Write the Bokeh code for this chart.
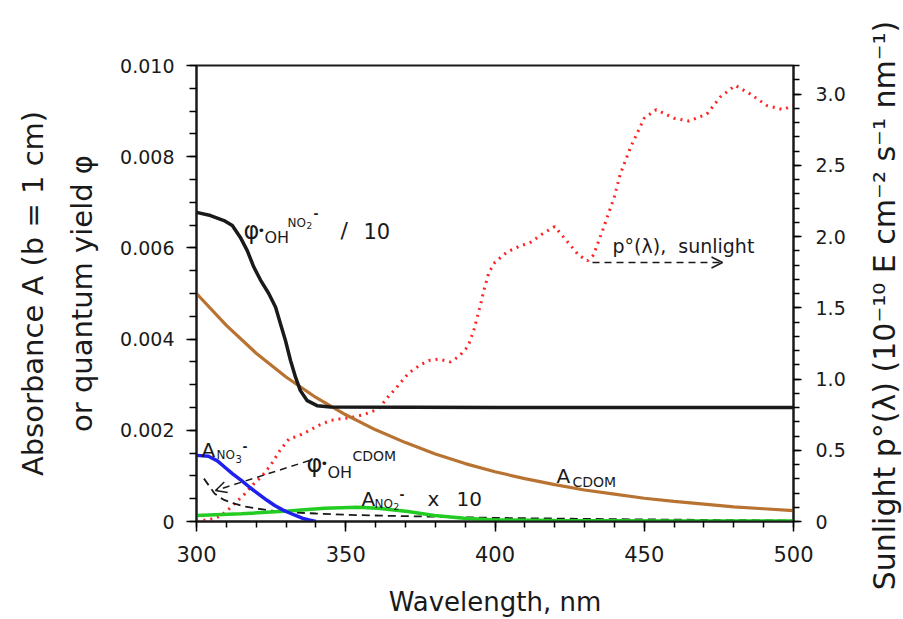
import math
from bokeh.plotting import figure
from bokeh.layouts import row
from bokeh.models import (Range1d, LinearAxis, FixedTicker, CustomJSTickFormatter,
                          Label, Arrow, OpenHead)
from bokeh.embed import file_html
from bokeh.resources import INLINE

# ---------------- data ----------------
wl_phi_no2 = [300, 304.7, 309.2, 312, 314.7, 317, 319.2, 321.4, 324.2, 326.5, 328.1, 329.8,
              331.5, 333.2, 334.8, 337.1, 340.4, 344.9, 400, 450, 500]
phi_no2 = [0.00678, 0.00671, 0.00660, 0.00649, 0.00623, 0.00594, 0.00558, 0.00530, 0.00500,
           0.00470, 0.00434, 0.00397, 0.00353, 0.00316, 0.00287, 0.00265, 0.00254, 0.00251,
           0.00250, 0.00250, 0.00250]

wl_cdom = [300, 310, 320, 330, 340, 350, 360, 370, 380, 390, 400,
           410, 420, 430, 440, 450, 460, 470, 480, 490, 500]
a_cdom = [0.00500, 0.00430, 0.00369, 0.00317, 0.00272, 0.00234, 0.00201, 0.00173, 0.00148,
          0.00127, 0.00109, 0.00094, 0.00081, 0.00069, 0.00060, 0.00051, 0.00044, 0.00038,
          0.00032, 0.00028, 0.00024]

wl_no3 = [300, 304, 307, 309.5, 312, 315, 318, 320.6, 323.5, 326.2, 329, 331.8, 334, 336, 338, 340]
a_no3 = [0.00145, 0.00143, 0.00133, 0.00119, 0.00105, 0.00090, 0.00074, 0.00061, 0.00047,
         0.00035, 0.00025, 0.00017, 0.00011, 0.00006, 0.00003, 0.00000]

wl_no2 = [300, 315, 330.7, 342.9, 354, 360.8, 370.8, 379.7, 389.7, 398.7, 420, 460, 500]
a_no2_x10 = [0.00013, 0.00017, 0.00023, 0.00029, 0.00031, 0.00029, 0.00022, 0.00013,
             0.00007, 0.00004, 0.00002, 0.00001, 0.00001]

wl_phi_cdom = [302.5, 306.1, 309, 312.8, 316, 320.6, 326, 331.8, 340, 350.7, 362, 376.3,
               398.7, 420, 441, 470, 500]
phi_cdom = [0.00094, 0.00061, 0.00048, 0.00039, 0.00033, 0.00028, 0.00023, 0.00020, 0.000175,
            0.000147, 0.000128, 0.00011, 0.00008, 0.000065, 0.00005, 0.000035, 0.00002]

wl_sun = [300, 303, 306, 308, 310, 313, 316, 319, 322, 325, 328, 331, 334, 337, 341, 345, 348,
          352, 356, 361, 364, 367, 371, 375, 378, 381, 385, 388, 391, 393, 395, 396.5, 398,
          400, 404, 408, 412, 416, 420, 424, 428, 431, 433, 436, 440, 442, 445.5, 450, 454,
          460, 465, 471, 475.5, 480.5, 485.5, 491, 496.5, 500]
sunlight = [0.00, 0.01, 0.02, 0.04, 0.07, 0.13, 0.19, 0.26, 0.32, 0.40, 0.50, 0.58, 0.60, 0.63,
            0.675, 0.71, 0.72, 0.73, 0.75, 0.79, 0.87, 0.94, 1.04, 1.10, 1.13, 1.14, 1.12, 1.16,
            1.23, 1.35, 1.51, 1.64, 1.75, 1.82, 1.89, 1.93, 1.96, 2.02, 2.07, 1.97, 1.87, 1.83,
            1.87, 2.04, 2.28, 2.44, 2.63, 2.83, 2.89, 2.83, 2.81, 2.86, 2.98, 3.06, 3.00, 2.92,
            2.89, 2.92]

x_major = [300, 350, 400, 450, 500]
y_left_major = [0.0, 0.002, 0.004, 0.006, 0.008, 0.010]
y_right_major = [0.0, 0.5, 1.0, 1.5, 2.0, 2.5, 3.0]

right_title = "Sunlight p\u00b0(\u03bb) (10\u207b\u00b9\u2070 E cm\u207b\u00b2 s\u207b\u00b9 nm\u207b\u00b9)"

FONT = "DejaVu Sans"
INK = "#1a1a1a"

MAIN_W = 850
STRIP_W = 903 - MAIN_W

# ---------------- main figure ----------------
p = figure(width=MAIN_W, height=619, x_range=Range1d(300, 500), y_range=Range1d(0, 0.010),
           output_backend="svg", toolbar_location=None, title=None,
           min_border_left=196, min_border_right=MAIN_W - 793, min_border_top=65,
           min_border_bottom=98)
p.extra_y_ranges = {"sun": Range1d(0, 3.2)}
p.xgrid.visible = False
p.ygrid.visible = False
p.outline_line_color = INK
p.outline_line_width = 2
p.background_fill_color = "white"
p.border_fill_color = "white"

# bottom axis
xa = p.xaxis[0]
xa.ticker = FixedTicker(ticks=x_major, minor_ticks=list(range(300, 501, 10)))
xa.axis_label = "Wavelength, nm"
xa.axis_label_text_font = FONT
xa.axis_label_text_font_size = "26px"
xa.axis_label_text_font_style = "normal"
xa.axis_label_text_color = INK
xa.axis_label_standoff = 22
xa.major_label_text_font = FONT
xa.major_label_text_font_size = "21px"
xa.major_label_text_color = INK
xa.major_label_standoff = 14
xa.major_tick_out = 10
xa.major_tick_in = 0
xa.minor_tick_out = 6
xa.minor_tick_in = 0
xa.axis_line_width = 2
xa.major_tick_line_width = 1.5
xa.minor_tick_line_width = 1.5
xa.axis_line_color = INK

# left axis
ya = p.yaxis[0]
ya.ticker = FixedTicker(ticks=y_left_major,
                        minor_ticks=[i * 0.0005 for i in range(0, 21)])
ya.formatter = CustomJSTickFormatter(code="return Math.abs(tick) < 1e-12 ? '0' : tick.toFixed(3)")
ya.axis_label = "Absorbance A (b = 1 cm)\nor quantum yield \u03c6"
ya.axis_label_text_font = FONT
ya.axis_label_text_font_size = "29px"
ya.axis_label_text_font_style = "normal"
ya.axis_label_text_color = INK
ya.axis_label_text_line_height = 1.45
ya.axis_label_standoff = 18
ya.major_label_text_font = FONT
ya.major_label_text_font_size = "19px"
ya.major_label_text_color = INK
ya.major_label_standoff = 12
ya.major_tick_out = 10
ya.major_tick_in = 0
ya.minor_tick_out = 7
ya.minor_tick_in = 0
ya.axis_line_width = 2
ya.major_tick_line_width = 1.5
ya.minor_tick_line_width = 1.5
ya.axis_line_color = INK

# right axis (its title is drawn in a narrow strip figure next to it)
ra = LinearAxis(y_range_name="sun",
                ticker=FixedTicker(ticks=y_right_major,
                                   minor_ticks=[i * 0.1 for i in range(0, 33)]),
                formatter=CustomJSTickFormatter(code="return Math.abs(tick) < 1e-12 ? '0' : tick.toFixed(1)"))
ra.major_label_text_font = FONT
ra.major_label_text_font_size = "19px"
ra.major_label_text_color = INK
ra.major_label_standoff = 14
ra.major_tick_out = 8
ra.major_tick_in = 0
ra.minor_tick_out = 6
ra.minor_tick_in = 0
ra.axis_line_width = 2
ra.major_tick_line_width = 1.5
ra.minor_tick_line_width = 1.5
ra.axis_line_color = INK
p.add_layout(ra, "right")

# ---------------- series ----------------
p.line(wl_sun, sunlight, y_range_name="sun", line_color="#ff2020", line_width=3,
       line_dash="2 5")
p.line(wl_cdom, a_cdom, line_color="#b87333", line_width=3.2)
p.line(wl_phi_cdom, phi_cdom, line_color=INK, line_width=1.8, line_dash="8 5")
p.line(wl_no2, a_no2_x10, line_color="#22cc22", line_width=3.5)
p.line(wl_no3, a_no3, line_color="#1f1fee", line_width=3.5)
p.line(wl_phi_no2, phi_no2, line_color=INK, line_width=3.5)


# ---------------- annotations ----------------
def to_data(x_px, y_px):
    return 300 + (x_px - 196) * 200.0 / 597.0, (521 - y_px) * 0.010 / 456.0


def put(text, x_px, y_px, size, style="normal"):
    x, y = to_data(x_px, y_px)
    p.add_layout(Label(x=x, y=y, text=text, text_font=FONT, text_font_size=f"{size}px",
                       text_font_style=style, text_color=INK, text_align="left",
                       text_baseline="alphabetic"))


# phi_OH^NO2- / 10
put("\u03c6", 243, 230, 24)
put("\u2022", 257, 230, 13)
put("OH", 264, 237, 16)
put("NO", 287, 222, 12)
put("2", 306, 225, 9)
put("-", 313, 213, 12, "bold")
put("/", 340, 230, 22)
put("10", 363, 230, 21)

# A_NO3-
put("A", 201, 449, 20)
put("NO", 216, 454, 12)
put("3", 235, 458, 10)
put("-", 242, 446, 12, "bold")

# phi_OH^CDOM
put("\u03c6", 306, 463, 24)
put("\u2022", 320, 463, 13)
put("OH", 327, 472, 16)
put("CDOM", 352, 455, 14)

# A_NO2- x 10
put("A", 361, 498, 20)
put("NO", 374, 503, 12)
put("2", 393, 506, 9)
put("-", 399, 494, 12, "bold")
put("x", 427, 498, 20)
put("10", 456, 498, 20)

# A_CDOM
put("A", 556, 475, 20)
put("CDOM", 572, 481, 14)

# sunlight
put("p\u00b0(\u03bb),\u00a0 sunlight", 612, 245, 19)

# arrows
x0, y0 = to_data(309, 460)
x1, y1 = to_data(215, 490)
p.add_layout(Arrow(end=OpenHead(size=11, line_width=1.5, line_color=INK),
                   x_start=x0, y_start=y0, x_end=x1, y_end=y1,
                   line_color=INK, line_width=1.5, line_dash="7 5"))
x0, y0 = to_data(592, 262)
x1, y1 = to_data(722, 262)
p.add_layout(Arrow(end=OpenHead(size=11, line_width=1.5, line_color=INK),
                   x_start=x0, y_start=y0, x_end=x1, y_end=y1,
                   line_color=INK, line_width=1.5, line_dash="7 5"))

# ---------------- strip with the right-axis title ----------------
strip = figure(width=STRIP_W, height=619, x_range=Range1d(0, STRIP_W), y_range=Range1d(0, 619),
               output_backend="svg", toolbar_location=None, title=None,
               x_axis_type=None, y_axis_type=None,
               min_border_left=0, min_border_right=0, min_border_top=0, min_border_bottom=0)
if "frame_align" in strip.properties():
    strip.frame_align = False
strip.outline_line_color = None
strip.xgrid.visible = False
strip.ygrid.visible = False
strip.background_fill_color = "white"
strip.border_fill_color = "white"
strip.add_layout(Label(x=884 - MAIN_W, y=619 - 305, text=right_title, angle=math.pi / 2,
                       text_font=FONT, text_font_size="30px", text_color=INK,
                       text_align="center", text_baseline="middle"))

layout = row(p, strip, spacing=0)
open("out.html", "w").write(file_html(layout, INLINE))
